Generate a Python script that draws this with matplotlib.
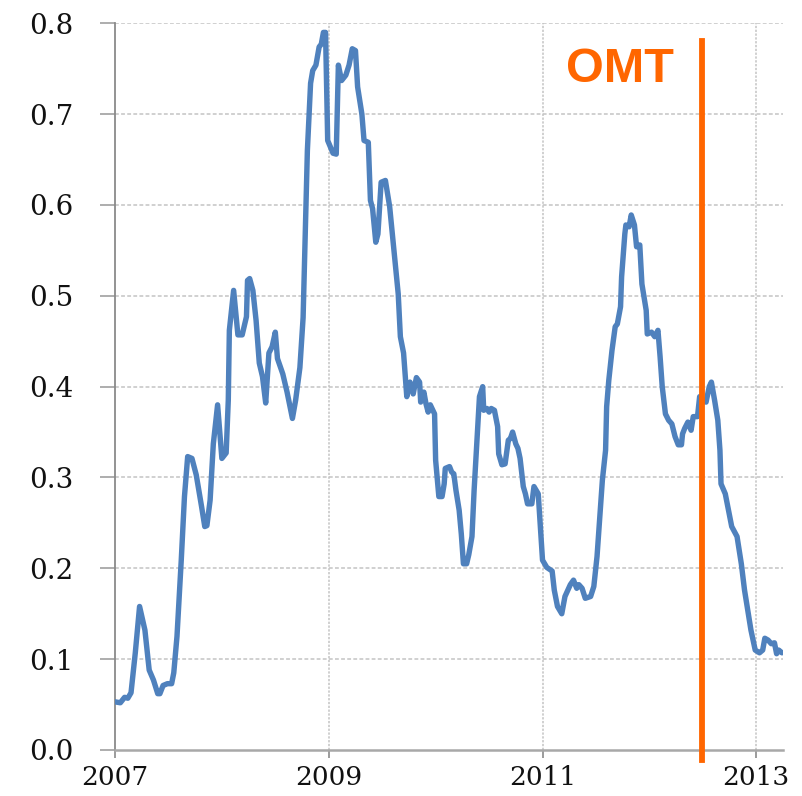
import matplotlib
matplotlib.use("Agg")
import matplotlib.pyplot as plt
from matplotlib.ticker import FormatStrFormatter

# Data (decimal year, value)
years = [
    2007.00, 2007.05, 2007.09, 2007.12, 2007.15, 2007.19, 2007.23, 2007.28, 2007.32, 2007.36,
    2007.40, 2007.42, 2007.45, 2007.49, 2007.53, 2007.55, 2007.58, 2007.62, 2007.65, 2007.68,
    2007.72, 2007.76, 2007.81, 2007.84, 2007.86, 2007.89, 2007.92, 2007.96, 2008.00, 2008.04,
    2008.06, 2008.07, 2008.11, 2008.15, 2008.19, 2008.23, 2008.24, 2008.26, 2008.29, 2008.32,
    2008.35, 2008.38, 2008.41, 2008.44, 2008.47, 2008.50, 2008.52, 2008.57, 2008.61, 2008.66,
    2008.69, 2008.73, 2008.76, 2008.78, 2008.80, 2008.83, 2008.85, 2008.88, 2008.91, 2008.93,
    2008.95, 2008.97, 2008.99, 2009.04, 2009.07, 2009.09, 2009.12, 2009.16, 2009.19, 2009.22,
    2009.25, 2009.27, 2009.31, 2009.33, 2009.37, 2009.39, 2009.41, 2009.44, 2009.46, 2009.49,
    2009.53, 2009.57, 2009.61, 2009.65, 2009.67, 2009.70, 2009.73, 2009.76, 2009.79, 2009.82,
    2009.85, 2009.86, 2009.89, 2009.91, 2009.93, 2009.95, 2009.99, 2010.00, 2010.03, 2010.06,
    2010.08, 2010.09, 2010.13, 2010.15, 2010.17, 2010.19, 2010.22, 2010.24, 2010.26, 2010.29,
    2010.31, 2010.34, 2010.36, 2010.39, 2010.41, 2010.44, 2010.45, 2010.48, 2010.50, 2010.52,
    2010.55, 2010.58, 2010.59, 2010.62, 2010.65, 2010.68, 2010.70, 2010.72, 2010.75, 2010.77,
    2010.79, 2010.82, 2010.84, 2010.86, 2010.90, 2010.92, 2010.96, 2010.98, 2011.00, 2011.04,
    2011.09, 2011.11, 2011.14, 2011.18, 2011.21, 2011.26, 2011.29, 2011.32, 2011.34, 2011.37,
    2011.40, 2011.45, 2011.48, 2011.51, 2011.54, 2011.56, 2011.59, 2011.60, 2011.62, 2011.65,
    2011.68, 2011.70, 2011.73, 2011.74, 2011.77, 2011.78, 2011.81, 2011.83, 2011.86, 2011.88,
    2011.91, 2011.93, 2011.97, 2011.98, 2012.02, 2012.05, 2012.08, 2012.10, 2012.12, 2012.15,
    2012.18, 2012.21, 2012.24, 2012.27, 2012.30, 2012.31, 2012.33, 2012.36, 2012.39, 2012.41,
    2012.45, 2012.47, 2012.50, 2012.53, 2012.56, 2012.58, 2012.61, 2012.64, 2012.66, 2012.67,
    2012.71, 2012.74, 2012.77, 2012.82, 2012.86, 2012.89, 2012.92, 2012.95, 2012.99, 2013.03,
    2013.06, 2013.08, 2013.11, 2013.14, 2013.17, 2013.19, 2013.21, 2013.24,
]
values = [
    0.053, 0.052, 0.058, 0.057, 0.063, 0.107, 0.158, 0.132, 0.088, 0.077,
    0.062, 0.062, 0.071, 0.073, 0.073, 0.085, 0.125, 0.209, 0.279, 0.323,
    0.321, 0.303, 0.268, 0.246, 0.247, 0.275, 0.337, 0.380, 0.321, 0.327,
    0.385, 0.462, 0.506, 0.457, 0.457, 0.477, 0.517, 0.519, 0.506, 0.473,
    0.426, 0.411, 0.382, 0.437, 0.444, 0.460, 0.431, 0.414, 0.394, 0.365,
    0.385, 0.421, 0.476, 0.569, 0.660, 0.734, 0.748, 0.754, 0.774, 0.777,
    0.790, 0.790, 0.671, 0.657, 0.656, 0.754, 0.737, 0.743, 0.754, 0.772,
    0.770, 0.730, 0.700, 0.671, 0.669, 0.605, 0.596, 0.559, 0.568, 0.625,
    0.627, 0.598, 0.550, 0.502, 0.455, 0.437, 0.389, 0.405, 0.392, 0.410,
    0.405, 0.383, 0.394, 0.381, 0.372, 0.380, 0.370, 0.319, 0.279, 0.279,
    0.293, 0.310, 0.312, 0.306, 0.304, 0.286, 0.264, 0.238, 0.205, 0.205,
    0.215, 0.235, 0.286, 0.348, 0.389, 0.400, 0.374, 0.376, 0.372, 0.376,
    0.374, 0.356, 0.326, 0.314, 0.315, 0.341, 0.343, 0.350, 0.337, 0.332,
    0.321, 0.290, 0.282, 0.271, 0.271, 0.290, 0.282, 0.246, 0.209, 0.201,
    0.197, 0.176, 0.158, 0.150, 0.169, 0.182, 0.187, 0.178, 0.182, 0.178,
    0.167, 0.169, 0.180, 0.213, 0.264, 0.297, 0.330, 0.378, 0.407, 0.440,
    0.466, 0.469, 0.488, 0.521, 0.568, 0.578, 0.576, 0.589, 0.578, 0.554,
    0.556, 0.513, 0.484, 0.458, 0.460, 0.455, 0.462, 0.433, 0.400, 0.370,
    0.363, 0.359, 0.345, 0.336, 0.336, 0.348, 0.354, 0.361, 0.352, 0.367,
    0.367, 0.389, 0.385, 0.383, 0.400, 0.405, 0.385, 0.363, 0.330, 0.293,
    0.282, 0.264, 0.246, 0.235, 0.205, 0.176, 0.154, 0.132, 0.110, 0.107,
    0.110, 0.123, 0.121, 0.117, 0.118, 0.106, 0.110, 0.107,
]
x_ticks = [2007, 2009, 2011, 2013]
y_ticks = [0.0, 0.1, 0.2, 0.3, 0.4, 0.5, 0.6, 0.7, 0.8]
omt_year = 2012.49
omt_top = 0.78
omt_label = "OMT"

fig = plt.figure(figsize=(8.03, 7.96), dpi=100)
ax = fig.add_axes([0.1432, 0.0578, 0.8319, 0.9129])

ax.set_xlim(2007, 2013.25)
ax.set_ylim(0, 0.8)

# grid
for yv in y_ticks[1:]:
    ax.axhline(yv, color="#c4c4c4", lw=1.1, ls=(0, (2.5, 1.5)), zorder=0)
for xv in x_ticks[1:]:
    ax.axvline(xv, color="#c4c4c4", lw=1.1, ls=(0, (1.5, 1.0)), zorder=0)

ax.plot(years, values, color="#4F81BD", lw=3.9, solid_joinstyle="round",
        solid_capstyle="round", zorder=3)

ax.plot([omt_year, omt_year], [-0.011, omt_top], color="#FF6600", lw=4.2,
        clip_on=False, zorder=4)
ax.text(2011.22, 0.735, omt_label, color="#FF6600", fontsize=35,
        fontweight="bold", family=["Liberation Sans", "DejaVu Sans"],
        ha="left", va="baseline", zorder=5)

for s in ["top", "right"]:
    ax.spines[s].set_visible(False)
ax.spines["left"].set_color("#8a8a8a")
ax.spines["left"].set_linewidth(1.3)
ax.spines["bottom"].set_color("#a8a8a8")
ax.spines["bottom"].set_linewidth(1.8)

ax.set_xticks(x_ticks)
ax.set_yticks(y_ticks)
ax.yaxis.set_major_formatter(FormatStrFormatter("%.1f"))
ax.tick_params(axis="y", length=11, width=1.2, color="#a0a0a0", pad=19,
               labelsize=20)
ax.tick_params(axis="x", length=6, width=1.2, color="#8a8a8a", pad=5,
               labelsize=19)
for lab in ax.get_xticklabels() + ax.get_yticklabels():
    lab.set_family(["DejaVu Serif"])
    lab.set_color("#111111")

fig.savefig("out.png", dpi=100, facecolor="white")
